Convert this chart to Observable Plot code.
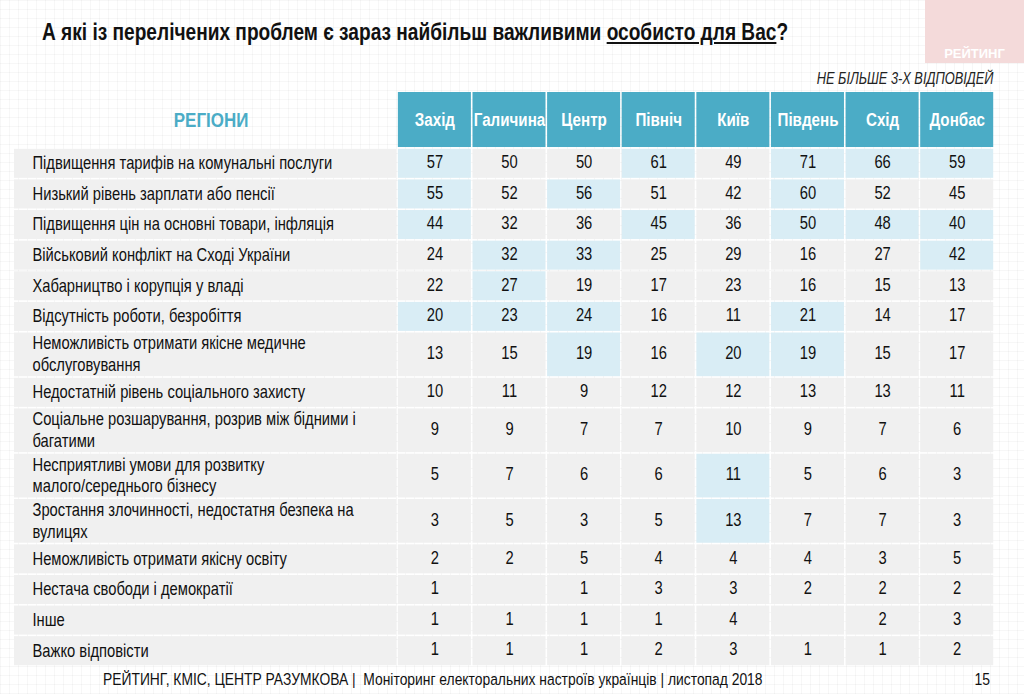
<!DOCTYPE html>
<html><head><meta charset="utf-8">
<script src="https://cdn.jsdelivr.net/npm/d3@7"></script>
<script src="https://cdn.jsdelivr.net/npm/@observablehq/plot@0.6"></script>
<style>
body{margin:0;width:1024px;height:694px;overflow:hidden;position:relative;background-color:#fff;
background-image:linear-gradient(rgba(0,0,0,0.03) 1px, transparent 1px),linear-gradient(90deg, rgba(0,0,0,0.03) 1px, transparent 1px);background-size:9px 9px;}
.narrow{font-family:"Liberation Sans",Arial,sans-serif;}
#title{position:absolute;left:42px;top:19px;font-weight:bold;font-size:23.3px;color:#111;white-space:nowrap;transform:scaleX(0.82);transform-origin:left center}
#sub{position:absolute;right:31px;top:70px;font-style:italic;font-size:15.6px;color:#222;white-space:nowrap;transform:scaleX(0.82);transform-origin:right center}
#logo{position:absolute;left:925px;top:0;width:99px;height:63px;background:#f4dada}
#logo span{position:absolute;bottom:2px;left:0;width:100%;text-align:center;color:#fff;font-weight:bold;font-size:13px;font-family:"Liberation Sans",sans-serif}
#chart{position:absolute;left:0;top:92px}
#foot{position:absolute;left:103px;top:670px;font-size:16.9px;color:#111;white-space:nowrap;transform:scaleX(0.82);transform-origin:left center}
#page{position:absolute;right:34px;top:670px;font-size:17px;color:#111;transform:scaleX(0.82);transform-origin:right center}
</style>
</head><body>
<div id="logo"><span>РЕЙТИНГ</span></div>
<div id="title" class="narrow">А які із перелічених проблем є зараз найбільш важливими <u>особисто для Вас</u>?</div>
<div id="sub" class="narrow">НЕ БІЛЬШЕ 3-Х ВІДПОВІДЕЙ</div>
<div id="chart"></div>
<div id="foot" class="narrow">РЕЙТИНГ, КМІС, ЦЕНТР РАЗУМКОВА |&nbsp; Моніторинг електоральних настроїв українців | листопад 2018</div>
<div id="page" class="narrow">15</div>
<script>
const headerTitle = "РЕГІОНИ";
const regions = ["Захід","Галичина","Центр","Північ","Київ","Південь","Схід","Донбас"];
const problems = [
  "Підвищення тарифів на комунальні послуги",
  "Низький рівень зарплати або пенсії",
  "Підвищення цін на основні товари, інфляція",
  "Військовий конфлікт на Сході України",
  "Хабарництво і корупція у владі",
  "Відсутність роботи, безробіття",
  "Неможливість отримати якісне медичне\nобслуговування",
  "Недостатній рівень соціального захисту",
  "Соціальне розшарування, розрив між бідними і\nбагатими",
  "Несприятливі умови для розвитку\nмалого/середнього бізнесу",
  "Зростання злочинності, недостатня безпека на\nвулицях",
  "Неможливість отримати якісну освіту",
  "Нестача свободи і демократії",
  "Інше",
  "Важко відповісти"
];
const values = [
  [57,50,50,61,49,71,66,59],
  [55,52,56,51,42,60,52,45],
  [44,32,36,45,36,50,48,40],
  [24,32,33,25,29,16,27,42],
  [22,27,19,17,23,16,15,13],
  [20,23,24,16,11,21,14,17],
  [13,15,19,16,20,19,15,17],
  [10,11,9,12,12,13,13,11],
  [9,9,7,7,10,9,7,6],
  [5,7,6,6,11,5,6,3],
  [3,5,3,5,13,7,7,3],
  [2,2,5,4,4,4,3,5],
  [1,null,1,3,3,2,2,2],
  [1,1,1,1,4,null,2,3],
  [1,1,1,2,3,1,1,2]
];
const highlighted = [
  [1,0,0,1,0,1,1,1],
  [1,0,1,0,0,1,0,0],
  [1,0,0,1,0,1,1,1],
  [0,1,1,0,0,0,0,1],
  [0,1,0,0,0,0,0,0],
  [1,1,1,0,0,1,0,0],
  [0,0,1,0,1,1,0,0],
  [0,0,0,0,0,0,0,0],
  [0,0,0,0,0,0,0,0],
  [0,0,0,0,1,0,0,0],
  [0,0,0,0,1,0,0,0],
  [0,0,0,0,0,0,0,0],
  [0,0,0,0,0,0,0,0],
  [0,0,0,0,0,0,0,0],
  [0,0,0,0,0,0,0,0]
];

// layout in row units
const HDR = 1.83, DBL = 1.48, LABEL_UNITS = 5.134;
let acc = HDR;
const rows = problems.map((p, i) => {
  const h = p.includes("\n") ? DBL : 1;
  const r = {label: p, y1: acc, y2: acc + h, ym: acc + h / 2, i};
  acc += h;
  return r;
});
const total = acc;
const cells = rows.flatMap(r => regions.map((g, j) => ({
  region: g, j, y1: r.y1, y2: r.y2, ym: r.ym,
  value: values[r.i][j], hi: highlighted[r.i][j] === 1
})));

const FONT = '"Liberation Sans",Arial,sans-serif';
const chart = Plot.plot({
  width: 1024, height: 574,
  marginLeft: 14, marginRight: 30, marginTop: 0, marginBottom: 0,
  style: {background: "transparent", fontFamily: FONT},
  x: {domain: [-LABEL_UNITS, regions.length], axis: null},
  y: {domain: [0, total], range: [0, 574], axis: null},
  marks: [
    Plot.rect(rows, {x1: -LABEL_UNITS, x2: 0, y1: "y1", y2: "y2", fill: "#f0f0f0", insetTop: 0.8, insetBottom: 0.8, insetRight: 0.8}),
    Plot.rect(regions, {x1: (d, i) => i, x2: (d, i) => i + 1, y1: 0, y2: HDR, fill: "#4bacc6", insetLeft: 0.8, insetRight: 0.8, insetBottom: 1}),
    Plot.text(regions, {x: (d, i) => i + 0.5, y: HDR / 2, text: d => d, fill: "white", fontWeight: "bold", fontSize: 18.5}),
    Plot.text([headerTitle], {x: -LABEL_UNITS / 2, y: HDR / 2, dx: 5, text: d => d, fill: "#4bacc6", fontWeight: "bold", fontSize: 20.7}),
    Plot.rect(cells, {x1: "j", x2: d => d.j + 1, y1: "y1", y2: "y2", fill: d => d.hi ? "#d9edf5" : "#f0f0f0", insetLeft: 0.8, insetRight: 0.8, insetTop: 0.8, insetBottom: 0.8}),
    Plot.text(cells.filter(d => d.value != null), {x: d => d.j + 0.5, y: "ym", dy: -1.5, text: d => String(d.value), fill: "#111", fontSize: 18}),
    Plot.text(rows, {x: -LABEL_UNITS, y: "ym", dx: 18, dy: -1.5, text: "label", textAnchor: "start", fill: "#111", fontSize: 18, lineHeight: 1.2})
  ]
});
// narrow the glyphs horizontally around each text anchor (Arial Narrow look)
chart.querySelectorAll("text").forEach(t => {
  t.setAttribute("transform", (t.getAttribute("transform") || "") + " scale(0.82,1)");
});
document.getElementById("chart").appendChild(chart);
</script>
</body></html>
